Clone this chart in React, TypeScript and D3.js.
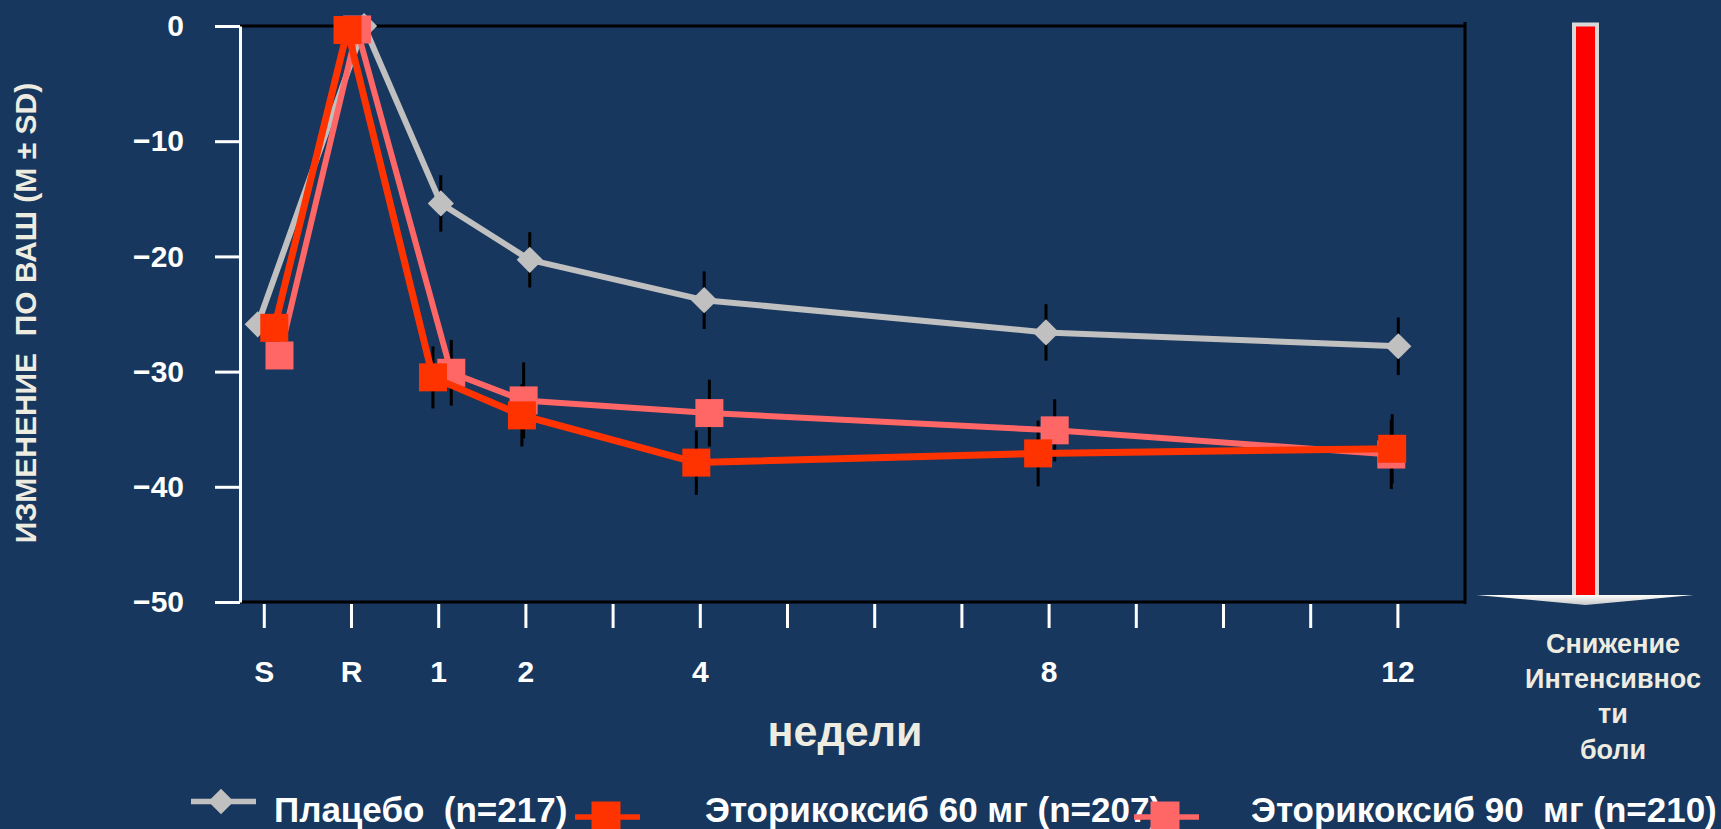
import React, { useRef, useEffect } from "react";
import * as d3 from "d3";

// x slots: S=0, R=1, week w -> w+1
const slotLabels = ["S", "R", "1", "2", "4", "8", "12"];
const slotIndex = [0, 1, 2, 3, 5, 9, 13];
const slotCount = 14;

const yTicks = [0, -10, -20, -30, -40, -50];

// Placebo
const placeboX = [-0.07, 1.15, 2.03, 3.05, 5.05, 8.97, 13.01];
const placeboMean = [-25.9, 0, -15.4, -20.3, -23.8, -26.6, -27.8];
const placeboSD = [null, null, 2.45, 2.4, 2.5, 2.45, 2.5];

// Etoricoxib 60 mg
const e60X = [0.12, 0.96, 1.94, 2.96, 4.96, 8.88, 12.94];
const e60Mean = [-26.2, -0.35, -30.5, -33.8, -37.9, -37.1, -36.7];
const e60SD = [null, null, 2.7, 2.7, 2.8, 2.85, 3.0];

// Etoricoxib 90 mg
const e90X = [0.18, 1.07, 2.15, 2.98, 5.11, 9.07, 12.93];
const e90Mean = [-28.6, -0.3, -30.1, -32.5, -33.6, -35.1, -37.2];
const e90SD = [null, null, 2.85, 3.3, 2.9, 2.7, 3.0];

const series = [
	{ name: "Плацебо  (n=217)", x: placeboX, mean: placeboMean, sd: placeboSD, color: "#c0c0c0", shape: "diamond", width: 6 },
	{ name: "Эторикоксиб 90  мг (n=210)", x: e90X, mean: e90Mean, sd: e90SD, color: "#ff6666", shape: "square", width: 6 },
	{ name: "Эторикоксиб 60 мг (n=207)", x: e60X, mean: e60Mean, sd: e60SD, color: "#ff3300", shape: "square", width: 7 },
];

const rightNote = ["Снижение", "Интенсивнос", "ти", "боли"];

const BG = "#17375e";
const CREAM = "#eeece1";
const FONT = "'Liberation Sans', Arial, sans-serif";

const WIDTH = 1721;
const HEIGHT = 829;

const App = () => {
	const chartRef = useRef<SVGSVGElement>(null);

	function drawChart() {
		const svg = d3.select(chartRef.current);
		svg.selectAll("*").remove();

		svg.attr("width", WIDTH).attr("height", HEIGHT).style("font-family", FONT);

		svg.append("rect").attr("width", WIDTH).attr("height", HEIGHT).attr("fill", BG);

		const left = 240;
		const right = 1465;

		const x = d3.scaleLinear().domain([0, slotCount - 1]).range([263.8, 1397.4]);
		const y = d3.scaleLinear().domain([-50, 0]).range([602, 26]);

		// frame (black top/right/bottom)
		svg.append("path")
			.attr("d", `M ${left},${y(0)} H ${right} V ${y(-50) + 2} M ${left},${y(-50)} H ${right + 1.5} M ${right},${y(0) - 4} V ${y(0)}`)
			.attr("fill", "none")
			.attr("stroke", "#000")
			.attr("stroke-width", 3);

		// y axis
		const yAxis = svg.append("g")
			.attr("transform", `translate(${left},0)`)
			.call(d3.axisLeft(y).tickValues(yTicks).tickSize(25).tickSizeOuter(0).tickPadding(31));
		yAxis.select(".domain").attr("stroke", "#fff").attr("stroke-width", 3);
		yAxis.selectAll(".tick line").attr("stroke", "#fff").attr("stroke-width", 3);
		yAxis.selectAll(".tick text")
			.attr("fill", "#fff")
			.attr("font-size", 30)
			.attr("font-weight", "bold")
			.attr("font-family", FONT);

		// x axis ticks
		const xAxis = svg.append("g")
			.attr("transform", `translate(0,${y(-50) + 2})`)
			.call(
				d3.axisBottom(x)
					.tickValues(d3.range(0, slotCount))
					.tickSize(24)
					.tickPadding(33)
					.tickFormat((d) => {
						const i = slotIndex.indexOf(d as number);
						return i >= 0 ? slotLabels[i] : "";
					})
			);
		xAxis.select(".domain").remove();
		xAxis.selectAll(".tick line").attr("stroke", "#fff").attr("stroke-width", 3);
		xAxis.selectAll(".tick text")
			.attr("fill", "#fff")
			.attr("font-size", 30)
			.attr("font-weight", "bold")
			.attr("font-family", FONT);

		// error bars
		series.forEach((s) => {
			svg.append("g")
				.selectAll("line")
				.data(s.mean.map((m, i) => ({ m, sd: s.sd[i], xv: s.x[i] })).filter(d => d.sd != null))
				.enter()
				.append("line")
				.attr("x1", d => x(d.xv))
				.attr("x2", d => x(d.xv))
				.attr("y1", d => y(d.m + d.sd))
				.attr("y2", d => y(d.m - d.sd))
				.attr("stroke", "#000")
				.attr("stroke-width", 3);
		});

		// lines + markers
		series.forEach((s) => {
			const pts = s.mean.map((m, i) => [x(s.x[i]), y(m)] as [number, number]);
			svg.append("path")
				.attr("d", d3.line()(pts))
				.attr("fill", "none")
				.attr("stroke", s.color)
				.attr("stroke-width", s.width)
				.attr("stroke-linejoin", "round");

			const sym = s.shape === "diamond"
				? d3.symbol().type(d3.symbolSquare).size(18.5 * 18.5)
				: d3.symbol().type(d3.symbolSquare).size(28 * 28);

			svg.append("g")
				.selectAll("path")
				.data(pts)
				.enter()
				.append("path")
				.attr("d", sym())
				.attr("transform", d => `translate(${d[0]},${d[1]})${s.shape === "diamond" ? " rotate(45)" : ""}`)
				.attr("fill", s.color);
		});

		// arrow on the right
		const ax = 1585.5;
		const top = y(0) - 3.5;
		const bot = y(-50) - 7;
		const defs = svg.append("defs");
		const grad = defs.append("linearGradient").attr("id", "headGrad").attr("x1", 0).attr("x2", 0).attr("y1", 0).attr("y2", 1);
		grad.append("stop").attr("offset", "0%").attr("stop-color", "#ffffff");
		grad.append("stop").attr("offset", "100%").attr("stop-color", "#c8c8c8");
		svg.append("rect").attr("x", ax - 13.5).attr("y", top).attr("width", 27).attr("height", bot - top).attr("fill", "#d9d9d9");
		svg.append("rect").attr("x", ax - 9.5).attr("y", top + 4).attr("width", 19).attr("height", bot - top - 2).attr("fill", "#ff0000");
		svg.append("path")
			.attr("d", `M ${ax - 109},${bot} L ${ax + 108},${bot} L ${ax},${bot + 10} Z`)
			.attr("fill", "url(#headGrad)");

		svg.append("g")
			.selectAll("text")
			.data(rightNote)
			.enter()
			.append("text")
			.attr("x", 1613)
			.attr("y", (d, i) => 653 + i * 35.2)
			.attr("text-anchor", "middle")
			.attr("fill", CREAM)
			.attr("font-size", 27)
			.attr("font-weight", "bold")
			.text(d => d);

		// axis titles
		svg.append("text")
			.attr("transform", `translate(36,313) rotate(-90)`)
			.attr("text-anchor", "middle")
			.attr("fill", CREAM)
			.attr("font-size", 30)
			.attr("font-weight", "bold")
			.style("white-space", "pre")
			.text("ИЗМЕНЕНИЕ  ПО ВАШ (М ± SD)");

		svg.append("text")
			.attr("x", 845)
			.attr("y", 746)
			.attr("text-anchor", "middle")
			.attr("fill", CREAM)
			.attr("font-size", 43)
			.attr("font-weight", "bold")
			.text("недели");

		// legend
		const legend = [
			{ s: series[0], lx: 191, ly: 801.5, tx: 274 },
			{ s: series[2], lx: 575, ly: 817, tx: 705 },
			{ s: series[1], lx: 1134, ly: 817, tx: 1251 },
		];
		const lg = svg.append("g");
		legend.forEach((l) => {
			lg.append("text")
				.attr("x", l.tx)
				.attr("y", 822)
				.attr("fill", "#fff")
				.attr("font-size", 35)
				.attr("font-weight", "bold")
				.style("white-space", "pre")
				.text(l.s.name);
		});
		legend.forEach((l) => {
			lg.append("line")
				.attr("x1", l.lx).attr("x2", l.lx + 65)
				.attr("y1", l.ly).attr("y2", l.ly)
				.attr("stroke", l.s.color)
				.attr("stroke-width", 5.5);
			const sym = l.s.shape === "diamond"
				? d3.symbol().type(d3.symbolSquare).size(18 * 18)
				: d3.symbol().type(d3.symbolSquare).size(29 * 29);
			lg.append("path")
				.attr("d", sym())
				.attr("transform", `translate(${l.lx + (l.s.shape === "diamond" ? 30 : 31)},${l.s.shape === "diamond" ? l.ly : l.ly - 1})${l.s.shape === "diamond" ? " rotate(45)" : ""}`)
				.attr("fill", l.s.color);
		});
	}

	useEffect(() => {
		drawChart();
	}, []);

	return (
		<div style={{ position: "fixed", left: 0, top: 0, width: WIDTH, height: HEIGHT, background: BG }}>
			<svg ref={chartRef}></svg>
		</div>
	);
};

export default App;
